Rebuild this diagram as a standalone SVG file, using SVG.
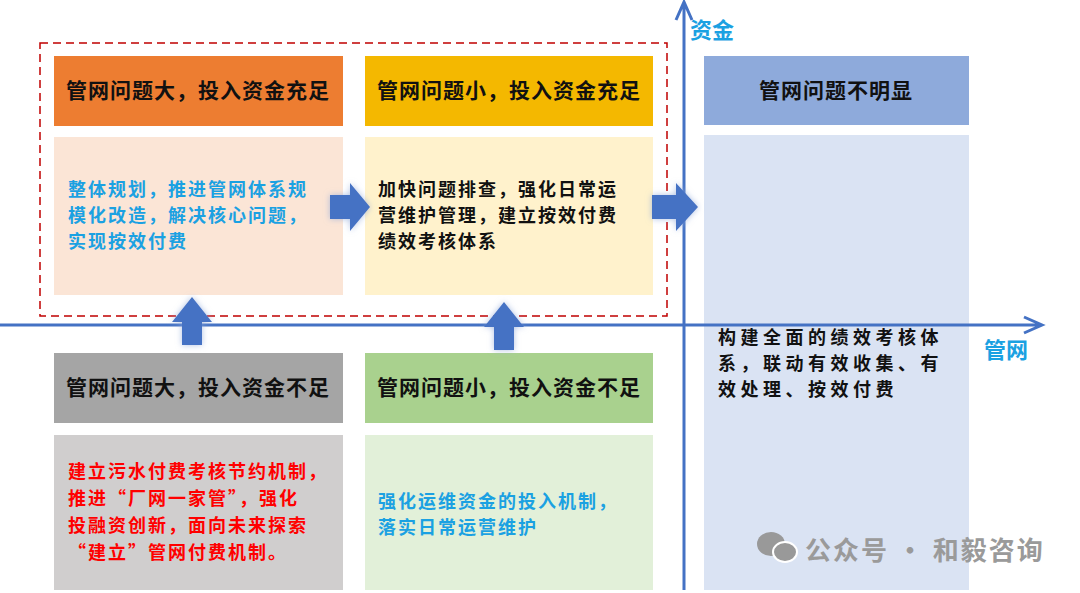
<svg xmlns="http://www.w3.org/2000/svg" width="1080" height="593" viewBox="0 0 1080 593">
<defs>
<style>
text{font-family:"Noto Sans CJK SC","Noto Sans",sans-serif;font-weight:bold}
.h{font-size:21px;fill:#111;text-anchor:middle;letter-spacing:1px}
.b{font-size:18px;letter-spacing:2px}
.ax{stroke:#4472C4;stroke-width:3;fill:none}
.blk{fill:#4472C4;filter:url(#sh)}
</style>
<filter id="sh" x="-30%" y="-30%" width="160%" height="160%"><feDropShadow dx="0" dy="0" stdDeviation="3" flood-color="#8fa8d8" flood-opacity="0.7"/></filter>
</defs>
<rect width="1080" height="593" fill="#fff"/>
<g id="frame"><rect x="40" y="43" width="627" height="273" fill="none" stroke="#C00000" stroke-width="1.5" stroke-dasharray="8,5"/></g>
<g id="q1">
<rect x="54" y="56" width="289" height="70" fill="#ED7D31"/>
<text class="h" x="198" y="98">管网问题大，投入资金充足</text>
<rect x="54" y="137" width="289" height="158" fill="#FBE5D6"/>
<text class="b" fill="#1BA1E2"><tspan x="68" y="196">整体规划，推进管网体系规</tspan><tspan x="68" y="222">模化改造，解决核心问题，</tspan><tspan x="68" y="248">实现按效付费</tspan></text>
</g>
<g id="q2">
<rect x="365" y="56" width="288" height="70" fill="#F4B800"/>
<text class="h" x="509" y="98">管网问题小，投入资金充足</text>
<rect x="365" y="137" width="288" height="158" fill="#FFF2CC"/>
<text class="b" fill="#111"><tspan x="378" y="196">加快问题排查，强化日常运</tspan><tspan x="378" y="222">营维护管理，建立按效付费</tspan><tspan x="378" y="248">绩效考核体系</tspan></text>
</g>
<g id="q3">
<rect x="54" y="353" width="289" height="70" fill="#A5A5A5"/>
<text class="h" x="198" y="395">管网问题大，投入资金不足</text>
<rect x="54" y="435" width="289" height="155" fill="#D0CECE"/>
<text class="b" fill="#FF0000"><tspan x="68" y="478">建立污水付费考核节约机制，</tspan><tspan x="68" y="505">推进“厂网一家管”，强化</tspan><tspan x="68" y="532">投融资创新，面向未来探索</tspan><tspan x="68" y="559">“建立”管网付费机制。</tspan></text>
</g>
<g id="q4">
<rect x="365" y="353" width="288" height="70" fill="#A9D18E"/>
<text class="h" x="509" y="395">管网问题小，投入资金不足</text>
<rect x="365" y="435" width="288" height="155" fill="#E2F0D9"/>
<text class="b" fill="#1BA1E2"><tspan x="378" y="508">强化运维资金的投入机制，</tspan><tspan x="378" y="534">落实日常运营维护</tspan></text>
</g>
<g id="q5">
<rect x="704" y="56" width="265" height="69" fill="#8EAADB"/>
<text class="h" x="836" y="98">管网问题不明显</text>
<rect x="704" y="135" width="265" height="455" fill="#DAE3F3"/>
<text class="b" fill="#111" style="letter-spacing:4.5px"><tspan x="718" y="344">构建全面的绩效考核体</tspan><tspan x="718" y="370">系，联动有效收集、有</tspan><tspan x="718" y="396">效处理、按效付费</tspan></text>
</g>
<g id="connectors">
<path class="ax" d="M0 325H1040 M1024 317L1042 325L1024 333"/>
<path class="ax" d="M684 590V4 M676 20L684 2L692 20"/>
<polygon class="blk" points="330,195 350,195 350,183 370,207 350,231 350,219 330,219"/>
<polygon class="blk" points="652,195 676,195 676,183 698,207 676,231 676,219 652,219"/>
<polygon class="blk" points="182,345 182,322 172,322 192,297 212,322 202,322 202,345"/>
<polygon class="blk" points="494,350 494,327 484,327 504,302 524,327 514,327 514,350"/>
</g>
<g id="labels">
<text x="690" y="38" font-size="22" fill="#1BA1E2">资金</text>
<text x="984" y="358" font-size="22" fill="#1BA1E2">管网</text>
</g>
<g id="watermark" fill="#999">
<ellipse cx="771" cy="544" rx="14" ry="12"/>
<ellipse cx="785" cy="552" rx="12" ry="10" stroke="#fff" stroke-width="2"/>
<text x="805" y="560" font-size="26" font-weight="normal" fill="#9a9a9a" letter-spacing="2">公众号 · 和毅咨询</text>
</g>
</svg>
